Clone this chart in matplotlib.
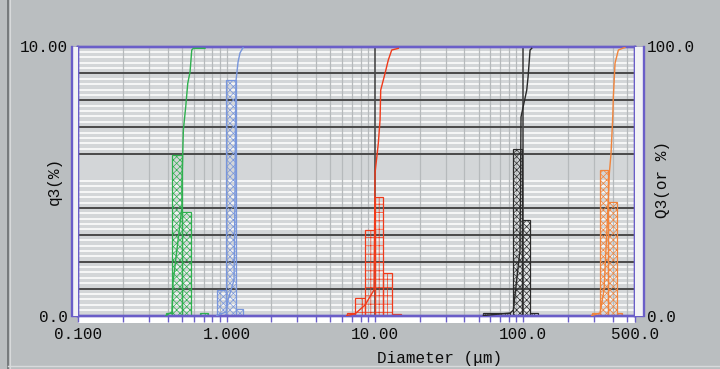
import numpy as np
import matplotlib
matplotlib.use("Agg")
import matplotlib.pyplot as plt
from matplotlib.lines import Line2D
from matplotlib.patches import Rectangle
from matplotlib.ticker import FixedLocator, NullFormatter

# --- data ---
# histogram bins (diameter edges, um) and q3 (%) for each sample
green_edges = [0.390, 0.428, 0.500, 0.575, 0.662, 0.750]
green_q3 = [0.09, 5.97, 3.85, 0.0, 0.08]
blue_edges = [0.858, 0.991, 1.157, 1.290]
blue_q3 = [0.95, 8.75, 0.24]
red_edges = [6.45, 7.34, 8.58, 10.02, 11.34, 13.04, 15.0]
red_q3 = [0.08, 0.65, 3.17, 4.40, 1.58, 0.05]
black_edges = [53.8, 81.5, 85.8, 97.7, 111.2, 125.9]
black_q3 = [0.10, 0.0, 6.20, 3.55, 0.10]
orange_edges = [289.7, 329.6, 374.9, 427.1, 463.7]
orange_q3 = [0.10, 5.41, 4.23, 0.10]

# cumulative curves Q3 (%)
green_cum_d = [0.390, 0.428, 0.435, 0.500, 0.500, 0.511, 0.530, 0.547, 0.567, 0.582, 0.596, 0.715]
green_cum_Q = [0.0, 1.3, 12.1, 40.3, 49.3, 69.0, 77.6, 86.3, 90.6, 98.7, 99.3, 99.3]
blue_cum_d = [0.858, 0.991, 1.022, 1.122, 1.139, 1.148, 1.157, 1.194, 1.231, 1.290]
blue_cum_Q = [0.0, 1.3, 5.8, 13.2, 42.9, 72.7, 87.2, 94.2, 97.6, 99.6]
red_cum_d = [6.45, 7.34, 8.58, 9.86, 10.02, 10.54, 10.83, 10.94, 11.70, 12.31, 12.98, 14.38]
red_cum_Q = [0.0, 0.6, 3.9, 9.5, 53.0, 64.0, 72.7, 83.8, 90.0, 95.0, 98.7, 99.3]
black_cum_d = [53.8, 81.5, 85.8, 95.1, 96.6, 105.6, 107.8, 111.2, 114.1]
black_cum_Q = [0.0, 0.9, 2.0, 24.3, 73.8, 83.8, 88.7, 98.7, 99.3]
orange_cum_d = [289.7, 329.6, 350.6, 374.9, 380.7, 391.0, 401.4, 405.2, 415.9, 437.8, 485.8]
orange_cum_Q = [0.0, 0.9, 9.5, 42.9, 52.9, 60.4, 73.9, 81.3, 93.8, 98.7, 99.7]

x_tick_vals = [0.1, 1.0, 10.0, 100.0]
x_tick_labels = ["0.100", "1.000", "10.00", "100.0", "500.0"]
X_MIN, X_MAX = 0.1, 567.0

# --- style ---
FIG_BG = "#babec0"
PLOT_BG = "#d3d6d8"
FRAME = "#6a5ec8"
TXT = "#0c0c0c"
MONO = "Liberation Mono"
plt.rcParams["font.family"] = [MONO, "DejaVu Sans Mono"]
plt.rcParams["hatch.linewidth"] = 0.5

W, H = 720, 369
fig = plt.figure(figsize=(W / 100, H / 100), dpi=100, facecolor=FIG_BG)

x0, x1, y0, y1 = 78.3, 635.0, 46.5, 315.5
ax = fig.add_axes([x0 / W, 1 - y1 / H, (x1 - x0) / W, (y1 - y0) / H])
ax.set_facecolor(PLOT_BG)
ax.set_xscale("log")
ax.set_xlim(X_MIN, X_MAX)
ax.set_ylim(0, 10)

# horizontal grid: white minor, dark major (no dark line at 5.0)
for i in range(1, 50):
    v = i * 0.2
    if i % 5 == 0 and i != 25:
        continue
    if 26 <= i <= 29:
        continue
    ax.axhline(v, color="#f6f7f7", lw=1.4, zorder=0.6)
# vertical grid
minor_x = [k * 10.0 ** e for e in range(-1, 3) for k in range(2, 10) if k * 10.0 ** e < X_MAX]
for v in minor_x + [1.0]:
    ax.axvline(v, color="#b6babc", lw=0.9, zorder=0.7)
for v in [10.0, 100.0]:
    ax.axvline(v, color="#3c3c3c", lw=1.1, zorder=0.8)
for i in range(1, 10):
    if i == 5:
        continue
    ax.axhline(i, color="#4a4a4a", lw=1.4, zorder=0.9)

samples = [
    (green_edges, green_q3, green_cum_d, green_cum_Q, "#2fb04f", "xxxxx"),
    (blue_edges, blue_q3, blue_cum_d, blue_cum_Q, "#7896dc", "xxxxx"),
    (red_edges, red_q3, red_cum_d, red_cum_Q, "#f03a1a", "++"),
    (black_edges, black_q3, black_cum_d, black_cum_Q, "#2a2a2a", "xxxxx"),
    (orange_edges, orange_q3, orange_cum_d, orange_cum_Q, "#f0843c", "xxxxx"),
]

ax2 = ax.twinx()
ax2.set_ylim(0, 100)
ax2.set_xlim(X_MIN, X_MAX)

for edges, q3, cd, cq, col, hatch in samples:
    lo = np.array(edges[:-1])
    hi = np.array(edges[1:])
    ax.bar(lo, q3, width=hi - lo, align="edge", facecolor="none",
           edgecolor=col, hatch=hatch, lw=0.9, zorder=2)
    ax2.plot(cd, cq, color=col, lw=1.0, zorder=3)

# axis ticks / frame
for a in (ax, ax2):
    for s in a.spines.values():
        s.set_color(FRAME)
        s.set_linewidth(1.7)

ax.xaxis.set_major_locator(FixedLocator(x_tick_vals + [X_MAX]))
ax.set_xticklabels(x_tick_labels)
ax.xaxis.set_minor_locator(FixedLocator(minor_x))
ax.xaxis.set_minor_formatter(NullFormatter())
ax.tick_params(axis="x", which="both", direction="out", length=4.5,
               width=1.0, color=FRAME, labelsize=11.5, pad=4, labelcolor=TXT)

ax.set_yticks([0, 10])
ax.set_yticklabels(["0.0", "10.00"])
ax.yaxis.set_minor_locator(FixedLocator(np.arange(0.2, 10, 0.2)))
ax.tick_params(axis="y", which="both", direction="out", length=4.5,
               width=1.0, color=FRAME, labelsize=11.5, pad=3, labelcolor=TXT)
ax2.set_yticks([0, 100])
ax2.set_yticklabels(["0.0", "100.0"])
ax2.yaxis.set_minor_locator(FixedLocator(np.arange(2, 100, 2)))
ax2.tick_params(axis="y", which="both", direction="out", length=5.5,
                width=1.0, color=FRAME, labelsize=11.5, pad=3, labelcolor=TXT)

# white strip under the x axis and the double frame lines at the sides
ax.add_patch(Rectangle((0, -7.5 / (y1 - y0)), 1, 7.5 / (y1 - y0), transform=ax.transAxes,
                       facecolor="white", edgecolor="none", clip_on=False, zorder=0.5))
fig.add_artist(Rectangle((72 / W, 1 - y1 / H), 6.3 / W, (y1 - y0) / H,
                         facecolor="#f2f2f6", edgecolor="none", zorder=0.4))
fig.add_artist(Line2D([72 / W, 72 / W], [1 - y1 / H, 1 - y0 / H], color=FRAME, lw=1.7))
fig.add_artist(Rectangle((x1 / W, 1 - y1 / H), 8.5 / W, (y1 - y0) / H,
                         facecolor="#f2f2f6", edgecolor="none", zorder=0.4))
fig.add_artist(Line2D([644 / W, 644 / W], [1 - y1 / H, 1 - y0 / H], color=FRAME, lw=1.7))

# window border
fig.add_artist(Line2D([8 / W, 8 / W], [0, 1], color="#6a6e70", lw=1.2))
fig.add_artist(Line2D([10 / W, 10 / W], [0, 1], color="#d8dadb", lw=0.8))
fig.add_artist(Line2D([8 / W, 1], [1 - 366 / H, 1 - 366 / H], color="#d8dadb", lw=1.0))

# labels
fig.text(54 / W, 1 - 181 / H, "q3(%)", rotation=90, ha="center", va="center",
         fontsize=11.5, color=TXT)
fig.text(663 / W, 1 - 180 / H, "Q3(or %)", rotation=90, ha="center", va="center",
         fontsize=11.5, color=TXT)
fig.text(440 / W, 1 - 358 / H, "Diameter (\u03bcm)", ha="center", va="center",
         fontsize=11.5, color=TXT)

fig.savefig("out.png", dpi=100, facecolor=FIG_BG)
